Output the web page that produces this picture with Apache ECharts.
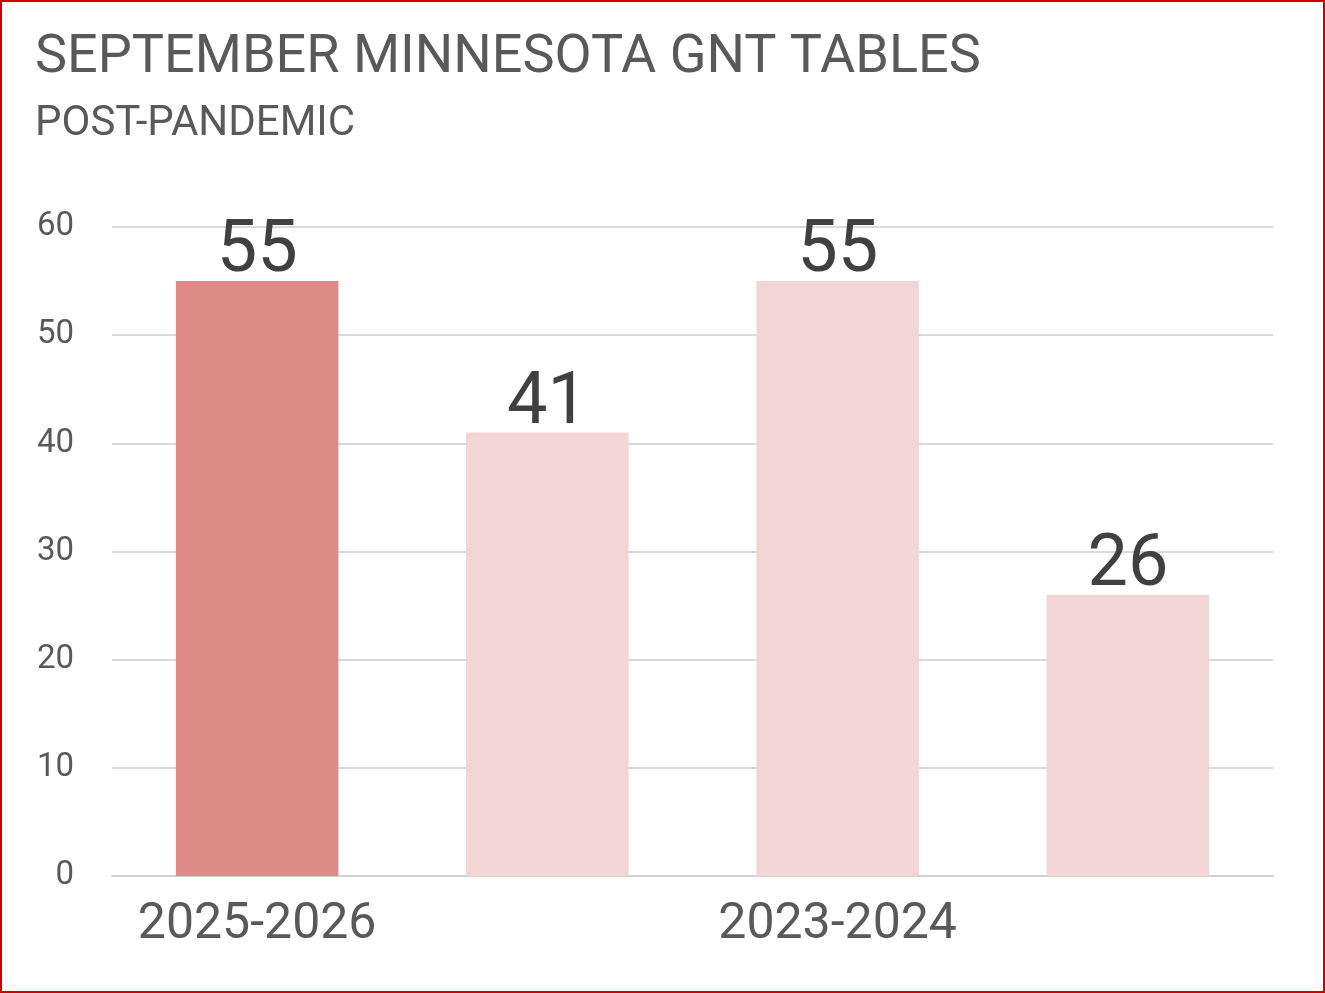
<!DOCTYPE html>
<html lang="en">
<head>
  <meta charset="UTF-8">
  <title>September Minnesota GNT Tables</title>
  <style type="text/css">
    html, body { margin: 0; padding: 0; background: #fff; }
    #chart {
      position: absolute; left: 0; top: 0;
      width: 1321px; height: 989px;
      border: 2px solid #cc0000;
    }
  </style>
</head>
<body>
  <div id="chart"></div>
  <script src="https://cdn.jsdelivr.net/npm/echarts@6/dist/echarts.min.js"></script>
  <script>
    const seasons = ['2025-2026', '2024-2025', '2023-2024', '2022-2023']
    const tables = [55, 41, 55, 26]
    const barColors = ['#e08a88', '#f3d5d6', '#f3d5d6', '#f3d5d6']

    const myChart = echarts.init(document.getElementById('chart'))

    const option = {
      title: {
        text: 'SEPTEMBER MINNESOTA GNT TABLES',
        subtext: 'POST-PANDEMIC',
        left: 28,
        top: 24,
        itemGap: 18,
        textStyle: { fontFamily: 'Roboto', fontWeight: 'normal', fontSize: 54, color: '#595959' },
        subtextStyle: { fontFamily: 'Roboto', fontSize: 42, color: '#595959' }
      },
      grid: { left: 110, right: 50, top: 225, bottom: 115 },
      xAxis: {
        type: 'category',
        data: seasons,
        axisTick: { show: false },
        axisLine: { lineStyle: { color: '#d0d0d0', width: 2 } },
        axisLabel: { fontFamily: 'Roboto', fontSize: 50, color: '#595959', margin: 24 }
      },
      yAxis: {
        type: 'value',
        min: 0,
        max: 60,
        interval: 10,
        axisLine: { show: false },
        axisTick: { show: false },
        splitLine: { lineStyle: { color: '#d9d9d9', width: 2 } },
        axisLabel: { fontFamily: 'Roboto', fontSize: 33, color: '#595959', margin: 38 }
      },
      series: [
        {
          type: 'bar',
          barWidth: '56%',
          data: tables.map((v, i) => ({ value: v, itemStyle: { color: barColors[i] } })),
          label: {
            show: true,
            position: 'top',
            distance: -8,
            fontFamily: 'Roboto',
            fontSize: 72,
            color: '#404040'
          }
        }
      ]
    }

    myChart.setOption(option)
  </script>
</body>
</html>
